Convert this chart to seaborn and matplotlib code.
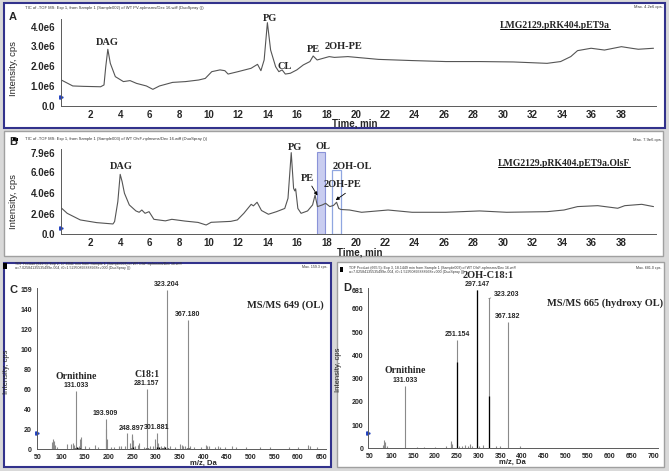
import numpy as np
import matplotlib
matplotlib.use("Agg")
import matplotlib.pyplot as plt
import seaborn as sns
from matplotlib.patches import Rectangle
from matplotlib.lines import Line2D
from matplotlib.ticker import MultipleLocator

# ---- data ----
# panel A: TIC, WT pET9a (intensity in 1e6 cps)
tic_a_time = [0.0, 0.78, 1.5, 2.67, 2.9, 3.02, 3.16, 3.33, 3.67, 4.22, 4.67, 5.11, 5.78, 6.22,
              6.67, 7.56, 8.44, 9.33, 9.78, 10.22, 10.78, 11.11, 11.33, 12.0, 12.89, 13.33,
              13.56, 13.78, 14.0, 14.22, 14.56, 14.78, 15.0, 15.22, 15.56, 16.0, 16.44, 16.89,
              17.11, 17.38, 18.2, 18.55, 19.47, 21.54, 23.83, 26.12, 28.42, 30.71, 33.0, 33.92,
              34.61, 35.07, 35.99, 36.9, 38.05, 38.74, 39.2, 40.23]
tic_a_int = [1.31, 1.01, 0.99, 0.97, 1.06, 1.98, 2.86, 2.15, 1.48, 1.23, 1.28, 1.14, 1.01, 0.84,
             1.01, 1.19, 1.23, 1.31, 1.39, 1.73, 1.82, 1.78, 1.61, 1.73, 1.9, 2.1,
             1.78, 2.32, 4.2, 2.82, 1.98, 1.73, 1.82, 1.61, 1.65, 1.82, 2.07, 2.24,
             2.52, 2.32, 2.49, 2.45, 2.49, 2.35, 2.29, 2.24, 2.24, 2.22, 2.15, 2.24,
             2.49, 2.79, 2.91, 2.82, 2.99, 2.91, 2.86, 2.91]
peaks_a = ["DAG", "PG", "CL", "PE", "2OH-PE"]
peaks_a_t = [3.1, 14.2, 15.2, 17.15, 19.2]
peaks_a_i = [3.18, 4.42, 2.0, 2.86, 2.99]

# panel B: TIC, OlsF strain
tic_b_time = [0.0, 0.4, 1.29, 2.4, 3.51, 3.62, 3.84, 4.0, 4.13, 4.29, 4.62, 5.07, 5.29, 5.47,
              5.69, 5.96, 6.29, 7.07, 7.51, 8.4, 9.29, 9.84, 10.18, 11.51, 11.96, 12.4, 12.9,
              13.05, 13.3, 13.6, 14.07, 14.62, 15.18, 15.4, 15.62, 15.78, 15.86, 15.92, 16.07,
              16.29, 16.73, 17.07, 17.24, 17.4, 17.73, 17.96, 18.24, 18.5, 18.7, 18.85, 19.0,
              19.58, 20.4, 22.2, 23.83, 26.12, 28.42, 30.25, 33.0, 34.15, 35.07, 36.44, 37.8,
              38.28, 39.43, 40.23]
tic_b_int = [2.55, 2.03, 1.39, 1.13, 1.0, 1.23, 3.16, 5.8, 5.1, 3.97, 2.84, 2.26, 2.13, 2.35,
             2.03, 2.19, 1.45, 1.3, 1.45, 1.28, 1.15, 0.9, 1.16, 1.25, 1.39, 2.03, 2.9,
             2.75, 3.1, 2.3, 1.94, 2.19, 2.5, 3.48, 7.9, 4.45, 4.2, 4.4, 2.5,
             2.03, 2.26, 2.84, 3.8, 2.68, 2.84, 3.0, 2.68, 2.8, 3.1, 2.5, 2.4,
             2.35, 2.13, 2.35, 2.13, 2.13, 2.26, 2.13, 2.19, 2.35, 2.68, 2.77, 2.52,
             2.77, 2.9, 2.68]
peaks_b = ["DAG", "PG", "OL", "2OH-OL"]
peaks_b_t = [4.05, 15.85, 17.8, 19.75]
peaks_b_i = [6.54, 8.35, 8.5, 6.54]
ol_window = (17.4, 17.9, 8.0)       # start, end, top
ohol_window = (18.4, 19.0, 6.2)

# panel C: MS/MS 649 (OL)
c_mz = [80, 82, 84, 86, 88, 92, 112, 122, 125, 127, 131.033, 138, 140, 142, 150, 160, 172, 178,
        193.909, 195, 197, 205, 212, 222, 226, 236, 238.5, 245, 248.897, 250, 252, 256, 262,
        265, 275, 281.157, 288, 295, 298, 301.881, 304, 310, 318, 323.204, 330, 340, 352,
        355, 358, 362, 367.18, 372, 380, 395, 405, 408, 412, 425, 432, 436, 445, 460, 470,
        490, 520, 540, 580, 600, 622, 625, 640]
c_int = [2, 7, 10, 8, 4, 2, 5, 5, 6, 4, 58, 3, 10, 12, 3, 2, 4, 2,
         30, 20, 10, 2, 2, 3, 3, 3, 16, 6, 15, 13, 9, 3, 4,
         6, 2, 60, 3, 3, 10, 16, 6, 3, 3, 159, 3, 2, 5,
         4, 3, 3, 129, 3, 2, 2, 4, 3, 3, 2, 3, 2, 2, 3, 2,
         2, 2, 2, 2, 2, 4, 3, 2]
c_base_mz = [130, 133, 136, 139, 248, 251, 279, 283, 302, 306, 312, 316, 320, 326, 366, 369]
c_base_int = [1.5, 2, 1.5, 1.5, 1.5, 2, 1.5, 1.5, 2, 2, 1.5, 1.5, 2, 1.5, 1.5, 1.5]
c_labels = {131.033: "131.033", 193.909: "193.909", 248.897: "248.897", 281.157: "281.157",
            301.881: "301.881", 323.204: "323.204", 367.18: "367.180"}

# panel D: MS/MS 665 (hydroxy OL)
d_mz = [82, 84, 86, 90, 131.033, 160, 175, 200, 225, 236, 238, 240, 251.154, 256, 262, 270,
        275, 280, 285, 297.147, 302, 310, 323.203, 340, 350, 367.182, 395]
d_int = [15, 35, 25, 8, 270, 6, 5, 4, 8, 30, 22, 18, 466, 10, 12, 15,
         10, 20, 10, 681, 8, 15, 645, 8, 12, 545, 12]
d_dark_mz = [251.154, 297.147, 323.203]
d_dark_int = [370, 681, 225]
d_labels = {131.033: "131.033", 251.154: "251.154", 297.147: "297.147", 367.182: "367.182"}

# ---- figure ----
W, H = 669, 471
sns.set_style("white")
plt.rcParams["font.family"] = ["Liberation Sans", "DejaVu Sans"]
SERIF = "Liberation Serif"
AXIS = "#5a5a5a"
TRACE = "#555555"
NAVY = "#32328c"

fig = plt.figure(figsize=(W / 100, H / 100), dpi=100, facecolor="#d9d9d9")


def box(x0, y0, x1, y1):
    return [x0 / W, 1 - y1 / H, (x1 - x0) / W, (y1 - y0) / H]


def ptext(x, y, s, **kw):
    return fig.text(x / W, 1 - y / H, s, **kw)


def frame(x0, y0, x1, y1, ec, lw):
    fig.add_artist(Rectangle((x0 / W, 1 - y1 / H), (x1 - x0) / W, (y1 - y0) / H,
                             transform=fig.transFigure, facecolor="white",
                             edgecolor=ec, linewidth=lw, zorder=-1))


frame(3.5, 3, 664.5, 127.5, NAVY, 1.5)
frame(3.5, 131, 663, 256, "#a0a0a0", 1.0)
frame(3.5, 263, 330.5, 466.5, NAVY, 1.5)
frame(336.5, 262, 664, 466.5, "#a0a0a0", 1.0)


def style(ax, fs, xpad, ypad, minor):
    ax.set_facecolor("none")
    ax.set_xlabel("")
    ax.set_ylabel("")
    sns.despine(ax=ax)
    for s in ("left", "bottom"):
        ax.spines[s].set_color(AXIS)
        ax.spines[s].set_linewidth(0.7)
    ax.xaxis.set_minor_locator(MultipleLocator(minor))
    ax.tick_params(which="major", length=2.0, width=0.6, color=AXIS, labelsize=fs)
    ax.tick_params(axis="x", which="minor", length=1.0, width=0.4, color=AXIS)
    ax.tick_params(axis="x", pad=xpad)
    ax.tick_params(axis="y", pad=ypad)
    for lab in ax.get_xticklabels() + ax.get_yticklabels():
        lab.set_fontweight("bold")


# ---- panel A ----
ax_a = fig.add_axes(box(61.3, 18.7, 656, 106))
sns.lineplot(x=tic_a_time, y=tic_a_int, ax=ax_a, color=TRACE, linewidth=0.8)
ax_a.set_xlim(0, 40.4)
ax_a.set_ylim(0, 4.4)
ax_a.set_xticks(range(2, 40, 2))
ax_a.set_yticks([0, 1, 2, 3, 4])
ax_a.set_yticklabels(["0.0", "1.0e6", "2.0e6", "3.0e6", "4.0e6"])
style(ax_a, 7, 0.6, 2.3, 0.5)
for name, t, i in zip(peaks_a, peaks_a_t, peaks_a_i):
    ax_a.text(t, i, name, ha="center", va="center", family=SERIF, fontweight="bold",
              fontsize=7.5, clip_on=False)
ax_a.plot([0], [0.44], marker=">", color="#1f3fbf", markersize=2.5, clip_on=False)

ptext(13, 17, "A", fontsize=8, fontweight="bold", ha="center", va="center")
ptext(25, 8.3, "TIC of -TOF MS: Exp 1, from Sample 1 (Sample002) of WT PV-nplmsms/Dec 16.wiff (DuoSpray ())",
      fontsize=3, color="#333333", va="center")
ptext(663, 6.7, "Max. 4.2e6 cps.", fontsize=3, color="#333333", ha="right", va="center")
ptext(13.3, 68.3, "Intensity, cps", rotation=90, fontsize=6.8, ha="center", va="center")
ptext(355, 124, "Time, min", fontsize=7, fontweight="bold", ha="center", va="center")
lab_a = ptext(555, 25, "LMG2129.pRK404.pET9a", family=SERIF, fontweight="bold", fontsize=7,
              ha="center", va="center")

# ---- panel B ----
ax_b = fig.add_axes(box(61.3, 148.5, 656, 234.3))
ax_b.axvspan(ol_window[0], ol_window[1], ymax=ol_window[2] / 8.3, facecolor="#c9cdf0",
             edgecolor="#8a93d8", linewidth=0.8)
ax_b.axvspan(ohol_window[0], ohol_window[1], ymax=ohol_window[2] / 8.3, facecolor="none",
             edgecolor="#8fa6e0", linewidth=0.9)
sns.lineplot(x=tic_b_time, y=tic_b_int, ax=ax_b, color=TRACE, linewidth=0.8)
ax_b.set_xlim(0, 40.4)
ax_b.set_ylim(0, 8.3)
ax_b.set_xticks(range(2, 40, 2))
ax_b.set_yticks([0, 2, 4, 6, 7.9])
ax_b.set_yticklabels(["0.0", "2.0e6", "4.0e6", "6.0e6", "7.9e6"])
style(ax_b, 7, 0.6, 2.3, 0.5)
for name, t, i in zip(peaks_b, peaks_b_t, peaks_b_i):
    ax_b.text(t, i, name, ha="center", va="center", family=SERIF, fontweight="bold",
              fontsize=7.5, clip_on=False)
arrow = dict(arrowstyle="-|>", color="black", lw=0.6, mutation_scale=5, shrinkA=0, shrinkB=0)
ax_b.annotate("PE", xy=(17.4, 3.75), xytext=(16.7, 5.42), ha="center", va="center",
              family=SERIF, fontweight="bold", fontsize=7.5, arrowprops=arrow)
ax_b.annotate("", xy=(18.64, 3.3), xytext=(19.3, 3.97), arrowprops=arrow)
ax_b.text(19.1, 4.77, "2OH-PE", ha="center", va="center", family=SERIF, fontweight="bold",
          fontsize=7.5)
ax_b.plot([0], [0.58], marker=">", color="#1f3fbf", markersize=2.5, clip_on=False)

ptext(13.3, 142, "B", fontsize=8, fontweight="bold", ha="center", va="center")
fig.add_artist(Rectangle((13 / W, 1 - 140.5 / H), 5 / W, 2.5 / H, transform=fig.transFigure,
                         facecolor="black", edgecolor="none"))
ptext(25, 139, "TIC of -TOF MS: Exp 1, from Sample 1 (Sample003) of WT OlsF-nplmsms/Dec 16.wiff (DuoSpray ())",
      fontsize=3, color="#333333", va="center")
ptext(662, 140, "Max. 7.9e6 cps.", fontsize=3, color="#333333", ha="right", va="center")
ptext(13.3, 201.7, "Intensity, cps", rotation=90, fontsize=6.8, ha="center", va="center")
ptext(359.5, 252.3, "Time, min", fontsize=7, fontweight="bold", ha="center", va="center")
lab_b = ptext(564, 163.3, "LMG2129.pRK404.pET9a.OlsF", family=SERIF, fontweight="bold",
              fontsize=7, ha="center", va="center")

# ---- panel C ----
ax_c = fig.add_axes(box(36.7, 288, 326, 449))
ax_c.vlines(c_mz, 0, c_int, color="#8a8a8a", linewidth=0.8)
ax_c.vlines(c_base_mz, 0, c_base_int, color="black", linewidth=1.0)
ax_c.set_xlim(48.7, 659)
ax_c.set_ylim(0, 161)
ax_c.set_xticks(range(50, 651, 50))
ax_c.set_yticks([0, 20, 40, 60, 80, 100, 120, 140, 159])
ax_c.set_yticklabels(["0", "20", "40", "60", "80", "100", "120", "140", "159"])
style(ax_c, 5, 1.6, 1.4, 10)
for mz, s in c_labels.items():
    h = c_int[c_mz.index(mz)]
    ax_c.annotate(s, xy=(mz, h), xytext=(0, 1.2), textcoords="offset points", ha="center",
                  va="bottom", fontsize=5, fontweight="bold")
ax_c.annotate("Ornithine", xy=(131.033, 58), xytext=(0, 7.5), textcoords="offset points",
              ha="center", va="bottom", family=SERIF, fontweight="bold", fontsize=7)
ax_c.annotate("C18:1", xy=(281.157, 60), xytext=(0, 7.5), textcoords="offset points",
              ha="center", va="bottom", family=SERIF, fontweight="bold", fontsize=7)
ax_c.plot([48.7], [15.7], marker=">", color="#1f3fbf", markersize=2.5, clip_on=False)

ptext(13.3, 290, "C", fontsize=8, fontweight="bold", ha="center", va="center")
fig.add_artist(Rectangle((3 / W, 1 - 268.5 / H), 3.5 / W, 5.5 / H, transform=fig.transFigure,
                         facecolor="black", edgecolor="none"))
ptext(15, 264.3, "TOF Product (649.5): Exp 2, 17.6041 min from Sample 1 (Sample003) of WT OlsF-nplmsms/Dec 16.wiff",
      fontsize=2.6, color="#333333", va="center")
ptext(15, 268.3, "a=7.02584135535499e-004, t0=1.52950893888968e+000 (DuoSpray ())",
      fontsize=2.6, color="#333333", va="center")
ptext(328, 266.7, "Max. 159.3 cps.", fontsize=2.6, color="#333333", ha="right", va="center")
ptext(285, 305, "MS/MS 649 (OL)", family=SERIF, fontweight="bold", fontsize=7.5,
      ha="center", va="center")
ptext(6.7, 371.7, "Intensity, cps", rotation=90, fontsize=5.5, ha="center", va="center")
ptext(203.3, 463.3, "m/z, Da", fontsize=5.5, fontweight="bold", ha="center", va="center")

# ---- panel D ----
ax_d = fig.add_axes(box(368.3, 288, 658, 448.3))
ax_d.vlines(d_mz, 0, d_int, color="#8a8a8a", linewidth=0.8)
ax_d.vlines(d_dark_mz, 0, d_dark_int, color="black", linewidth=0.9)
ax_d.set_xlim(47.7, 711)
ax_d.set_ylim(0, 690)
ax_d.set_xticks(range(50, 701, 50))
ax_d.set_yticks([0, 100, 200, 300, 400, 500, 600, 681])
ax_d.set_yticklabels(["0", "100", "200", "300", "400", "500", "600", "681"])
style(ax_d, 5, 1.6, 1.4, 10)
for mz, s in d_labels.items():
    h = d_int[d_mz.index(mz)]
    ax_d.annotate(s, xy=(mz, h), xytext=(0, 1.2), textcoords="offset points", ha="center",
                  va="bottom", fontsize=5, fontweight="bold")
ax_d.annotate("323.203", xy=(323.203, 645), xytext=(4, 3), textcoords="offset points",
              ha="left", va="center", fontsize=5, fontweight="bold",
              arrowprops=dict(arrowstyle="-", color="#555555", lw=0.4, shrinkA=0, shrinkB=0))
ax_d.annotate("Ornithine", xy=(131.033, 270), xytext=(0, 7.5), textcoords="offset points",
              ha="center", va="bottom", family=SERIF, fontweight="bold", fontsize=7)
ax_d.annotate("2OH-C18:1", xy=(297.147, 681), xytext=(8, 7.5), textcoords="offset points",
              ha="center", va="bottom", family=SERIF, fontweight="bold", fontsize=7.5,
              annotation_clip=False)
ax_d.plot([47.7], [64], marker=">", color="#1f3fbf", markersize=2.5, clip_on=False)

ptext(347.3, 288.3, "D", fontsize=8, fontweight="bold", ha="center", va="center")
fig.add_artist(Rectangle((340 / W, 1 - 272.3 / H), 3.3 / W, 5.6 / H, transform=fig.transFigure,
                         facecolor="black", edgecolor="none"))
ptext(349, 267.7, "TOF Product (665.5): Exp 3, 18.1449 min from Sample 1 (Sample003) of WT OlsF-nplmsms/Dec 16.wiff",
      fontsize=2.6, color="#333333", va="center")
ptext(349, 271.7, "a=7.02584135535499e-004, t0=1.52950893888968e+000 (DuoSpray ())",
      fontsize=2.6, color="#333333", va="center")
ptext(662, 267.7, "Max. 681.0 cps.", fontsize=2.6, color="#333333", ha="right", va="center")
ptext(604.7, 303.3, "MS/MS 665 (hydroxy OL)", family=SERIF, fontweight="bold", fontsize=7.5,
      ha="center", va="center")
ptext(339, 370, "Intensity, cps", rotation=90, fontsize=5.5, ha="center", va="center")
ptext(512.3, 462.3, "m/z, Da", fontsize=5.5, fontweight="bold", ha="center", va="center")

# underline the strain names
fig.canvas.draw()
rend = fig.canvas.get_renderer()
for lab in (lab_a, lab_b):
    bb = lab.get_window_extent(rend).transformed(fig.transFigure.inverted())
    fig.add_artist(Line2D([bb.x0, bb.x1], [bb.y0 + 0.5 / H, bb.y0 + 0.5 / H],
                          transform=fig.transFigure, color="black", linewidth=0.7))

fig.savefig("out.png", dpi=100, facecolor=fig.get_facecolor())
